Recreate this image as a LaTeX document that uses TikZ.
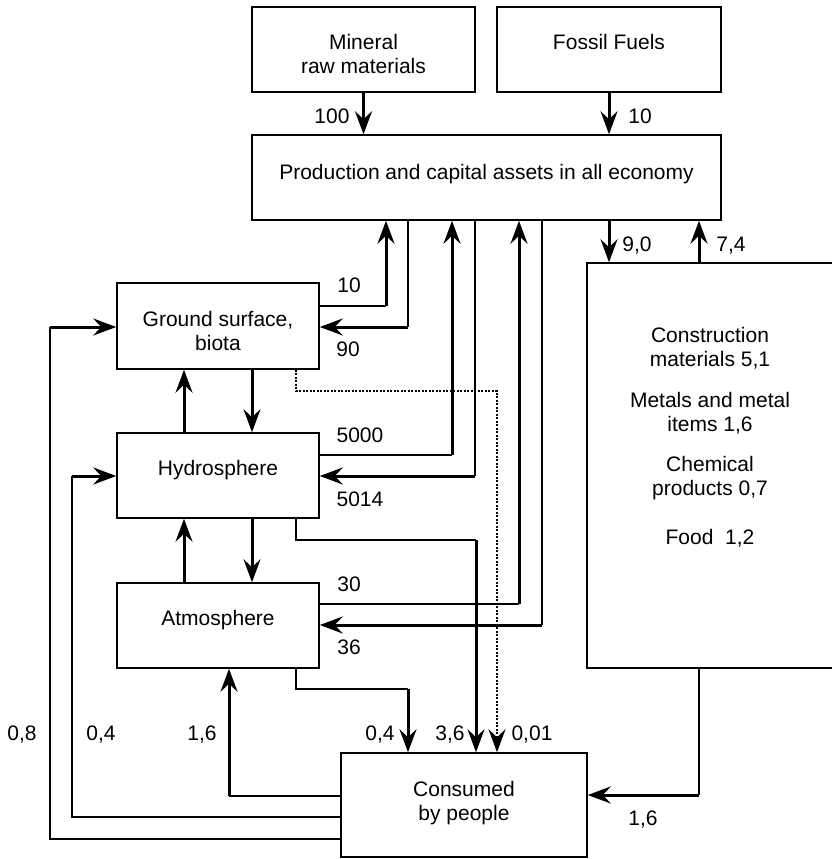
\documentclass[tikz,border=0pt]{standalone}
\usepackage{fontspec}
\setmainfont{Liberation Sans}
\usetikzlibrary{arrows.meta}
\begin{document}
\begin{tikzpicture}[x=1pt,y=-1pt,
  box/.style={draw, line width=1.5pt, inner sep=0pt, align=center,
    font=\fontsize{21}{24}\selectfont, text height=0pt, text depth=0pt},
  lbl/.style={inner sep=0pt, font=\fontsize{21}{24}\selectfont, text height=15pt, text depth=0pt},
  ln/.style={line width=1.6pt},
  thk/.style={line width=3pt},
  dots/.style={line width=2.5pt, dash pattern=on 2pt off 1.5pt},
  arr/.style={-{Stealth[length=23pt,width=17pt,inset=8pt]}}
]
\clip (0,0) rectangle (832,859);
% boxes
\node[box, minimum width=223pt, minimum height=85pt, text height=49pt] (mineral) at (363.5,49.5) {Mineral\\raw materials};
\node[box, minimum width=224pt, minimum height=85pt] (fossil) at (609,49.5) {Fossil Fuels};
\node[box, minimum width=469pt, minimum height=85pt, text height=3pt] (prod) at (486.5,177.5) {Production and capital assets in all economy};
\node[box, minimum width=202pt, minimum height=86pt, text height=48pt] (ground) at (218,326) {Ground surface,\\biota};
\node[box, minimum width=202pt, minimum height=85pt] (hydro) at (218,475.5) {Hydrosphere};
\node[box, minimum width=202pt, minimum height=85pt] (atmos) at (218,625.5) {Atmosphere};
\node[box, minimum width=246pt, minimum height=104pt, text height=30pt] (cons) at (464,805) {Consumed\\by people};
\node[box, minimum width=246pt, minimum height=405pt, text height=157pt] (big) at (710,465.5)
  {Construction\\materials 5,1\\[17pt]Metals and metal\\items 1,6\\[16pt]Chemical\\products 0,7\\[25pt]Food\ \ 1,2};

% bend coordinates
\coordinate (c10) at (386,306);
\coordinate (c90) at (408,327);
\coordinate (c5000) at (452,455);
\coordinate (c5014) at (475,476);
\coordinate (c30) at (519,604);
\coordinate (c36) at (542,625);
\coordinate (d1) at (296,391);
\coordinate (d2) at (497,391);
\coordinate (h1) at (296,540);
\coordinate (h2) at (476,540);
\coordinate (a1) at (296,689);
\coordinate (a2) at (408,689);
\coordinate (b1) at (699,795);
\coordinate (e1) at (229,796);
\coordinate (f1) at (72,817);
\coordinate (f2) at (72,476);
\coordinate (g1) at (50,839);
\coordinate (g2) at (50,327);
\coordinate (vu) at (184,0);
\coordinate (vd) at (252,0);
\coordinate (p90) at (609,0);
\coordinate (p74) at (699,0);

% raw inputs
\draw[thk,arr] (mineral.south) -- (mineral.south |- prod.north);
\draw[thk,arr] (fossil.south) -- (fossil.south |- prod.north);

% ground <-> production
\draw[ln] (ground.east |- c10) -- (c10);
\draw[thk,arr] (c10) -- (c10 |- prod.south);
\draw[ln] (c90 |- prod.south) -- (c90);
\draw[thk,arr] (c90) -- (c90 -| ground.east);

% hydro <-> production
\draw[ln] (hydro.east |- c5000) -- (c5000);
\draw[thk,arr] (c5000) -- (c5000 |- prod.south);
\draw[ln] (c5014 |- prod.south) -- (c5014);
\draw[thk,arr] (c5014) -- (c5014 -| hydro.east);

% atmos <-> production
\draw[ln] (atmos.east |- c30) -- (c30);
\draw[thk,arr] (c30) -- (c30 |- prod.south);
\draw[ln] (c36 |- prod.south) -- (c36);
\draw[thk,arr] (c36) -- (c36 -| atmos.east);

% vertical exchanges
\draw[thk,arr] (vu |- hydro.north) -- (vu |- ground.south);
\draw[thk,arr] (vd |- ground.south) -- (vd |- hydro.north);
\draw[thk,arr] (vu |- atmos.north) -- (vu |- hydro.south);
\draw[thk,arr] (vd |- hydro.south) -- (vd |- atmos.north);

% to consumed by people
\draw[dots,arr] (d1 |- ground.south) -- (d1) -- (d2) -- (d2 |- cons.north);
\draw[ln] (h1 |- hydro.south) -- (h1) -- (h2);
\draw[thk,arr] (h2) -- (h2 |- cons.north);
\draw[ln] (a1 |- atmos.south) -- (a1) -- (a2);
\draw[thk,arr] (a2) -- (a2 |- cons.north);

% production <-> right box
\draw[thk,arr] (p90 |- prod.south) -- (p90 |- big.north);
\draw[thk,arr] (p74 |- big.north) -- (p74 |- prod.south);
\draw[ln] (b1 |- big.south) -- (b1);
\draw[thk,arr] (b1) -- (b1 -| cons.east);

% from consumed back to nature
\draw[ln] (cons.west |- e1) -- (e1);
\draw[thk,arr] (e1) -- (e1 |- atmos.south);
\draw[ln] (cons.west |- f1) -- (f1) -- (f2);
\draw[thk,arr] (f2) -- (f2 -| hydro.west);
\draw[ln] (cons.west |- g1) -- (g1) -- (g2);
\draw[thk,arr] (g2) -- (g2 -| ground.west);

% labels
\node[lbl] (l100) at (332,116) {100};
\node[lbl] (l10f) at (640,116) {10};
\node[lbl] (l10g) at (349,285) {10};
\node[lbl] (l90) at (348,349) {90};
\node[lbl] (l5000) at (360,435) {5000};
\node[lbl] (l5014) at (360,499) {5014};
\node[lbl] (l30) at (349,584) {30};
\node[lbl] (l36) at (349,647) {36};
\node[lbl] (l08) at (22,733) {0,8};
\node[lbl] (l04a) at (101,733) {0,4};
\node[lbl] (l16a) at (202,733) {1,6};
\node[lbl] (l04b) at (380,733) {0,4};
\node[lbl] (l36b) at (450,733) {3,6};
\node[lbl] (l001) at (532,733) {0,01};
\node[lbl] (l16b) at (643,818) {1,6};
\node[lbl] (l90b) at (637,244) {9,0};
\node[lbl] (l74) at (731,244) {7,4};
\end{tikzpicture}
\end{document}
